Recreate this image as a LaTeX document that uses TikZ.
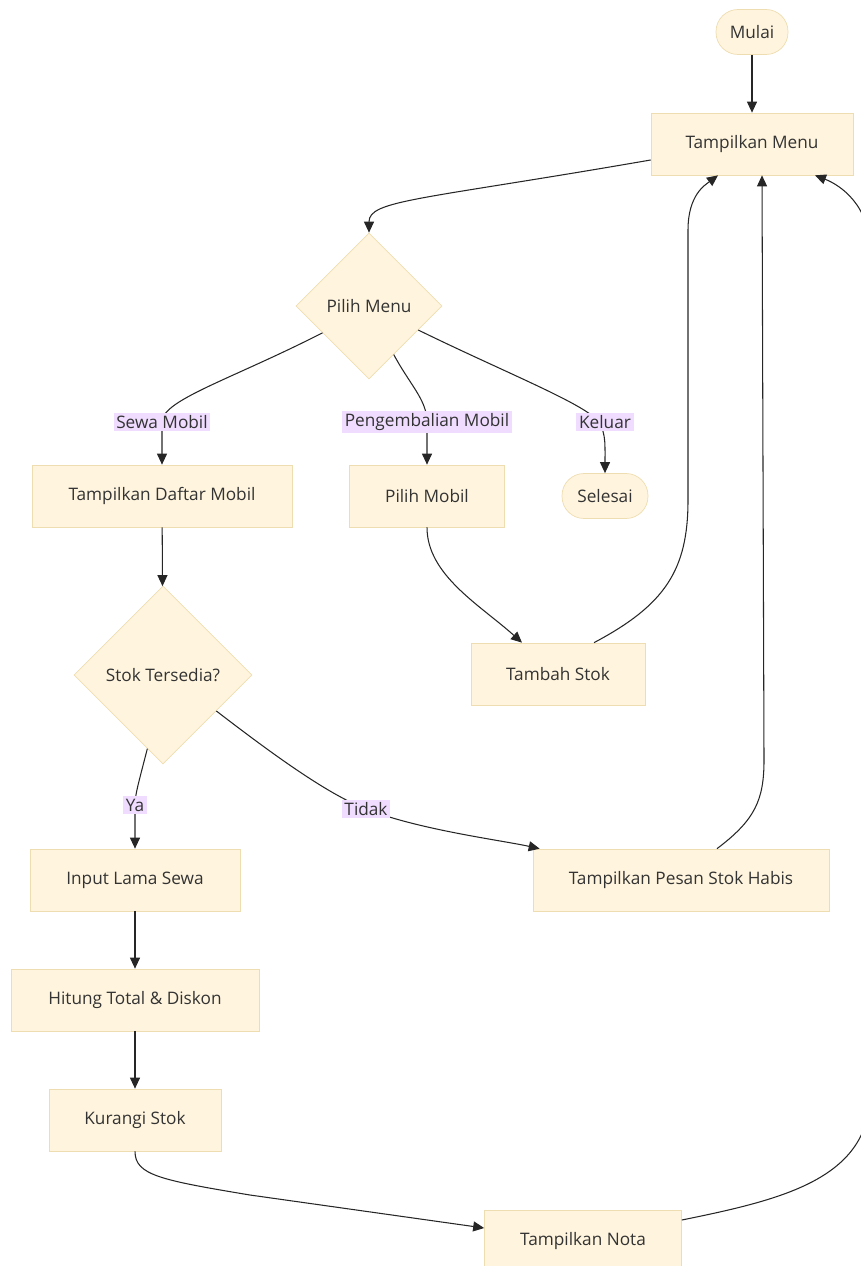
\documentclass[tikz,border=0pt]{standalone}
\usepackage{fontspec}
\setmainfont{Open Sans}
\usetikzlibrary{shapes.geometric,arrows.meta}
\definecolor{boxfill}{HTML}{FFF4DD}
\definecolor{boxline}{HTML}{EEDDB0}
\definecolor{lblfill}{HTML}{F0DCFF}
\definecolor{txt}{HTML}{333333}
\tikzset{
    box/.style={rectangle, fill=boxfill, draw=boxline, text=txt, minimum height=1.24cm, minimum width=#1, inner sep=0pt},
    term/.style={rectangle, rounded corners=0.44cm, fill=boxfill, draw=boxline, text=txt, minimum height=0.9cm, minimum width=#1, inner sep=0pt},
    choice/.style={diamond, aspect=1, fill=boxfill, draw=boxline, text=txt, minimum width=#1, minimum height=#1, inner sep=0pt},
    lbl/.style={fill=lblfill, text=txt, inner sep=1.5pt},
    arr/.style={-{Triangle[length=0.22cm,width=0.2cm]}, line width=0.6pt, draw=black!85}
}
\begin{document}
\begin{tikzpicture}[x=0.02cm, y=-0.02cm, font=\fontsize{9.8}{11.5}\selectfont]
            \useasboundingbox (0,0) rectangle (860,1266);
            \node[term=1.44cm] (mulai) at (752,32) {Mulai};
            \node[box=4.04cm] (menu) at (752,144) {Tampilkan Menu};
            \node[choice=2.92cm] (pilih) at (369,306) {Pilih Menu};
            \node[box=5.2cm] (daftar) at (162,496) {Tampilkan Daftar Mobil};
            \node[box=3.1cm] (pmobil) at (427,496) {Pilih Mobil};
            \node[term=1.72cm] (selesai) at (605,496) {Selesai};
            \node[choice=3.56cm] (stok) at (163,675) {Stok Tersedia?};
            \node[box=3.48cm] (tambah) at (558,674) {Tambah Stok};
            \node[box=4.2cm] (input) at (135,880) {Input Lama Sewa};
            \node[box=5.92cm] (pesan) at (681,880) {Tampilkan Pesan Stok Habis};
            \node[box=4.96cm] (hitung) at (135,1000) {Hitung Total \& Diskon};
            \node[box=3.44cm] (kurangi) at (135,1120) {Kurangi Stok};
            \node[box=3.94cm] (nota) at (583,1241) {Tampilkan Nota};
            \draw[arr] (mulai) -- (menu);
            \draw[arr] ([yshift=-0.32cm]menu.west) .. controls (420,200) and (369,200) .. (pilih.north);
            \draw[arr] (pilih.210) .. controls (230,380) and (162,400) .. (162,422) -- (daftar.north);
            \draw[arr] (pilih.297) .. controls (410,385) and (427,400) .. (427,422) -- (pmobil.north);
            \draw[arr] (pilih.334) .. controls (500,370) and (575,400) .. (595,418) .. controls (606,430) and (605,440) .. (selesai.north);
            \draw[arr] (daftar) -- (stok);
            \draw[arr] (stok.258) .. controls (138,785) and (135,795) .. (135,805) -- (input.north);
            \draw[arr] (stok.326) .. controls (280,760) and (330,795) .. (366,809) .. controls (420,830) and (500,840) .. ([xshift=0.14cm]pesan.north west);
            \draw[arr] (pmobil.south) .. controls (427,575) and (480,605) .. ([xshift=-0.72cm]tambah.north);
            \draw[arr] ([xshift=0.72cm]tambah.north) .. controls (665,605) and (688,570) .. (688,500) -- (688,230) .. controls (688,195) and (705,185) .. ([xshift=-0.68cm]menu.south);
            \draw[arr] ([xshift=0.72cm]pesan.north) .. controls (755,820) and (764,800) .. (764,760) -- ([xshift=0.2cm]menu.south);
            \draw[arr] (input) -- (hitung);
            \draw[arr] (hitung) -- (kurangi);
            \draw[arr] (kurangi.south) .. controls (135,1175) and (160,1180) .. (250,1195) -- ([yshift=0.26cm]nota.west);
            \draw[arr] ([yshift=0.42cm]nota.east) .. controls (780,1200) and (865,1180) .. (870,1100) -- (870,250) .. controls (870,205) and (840,185) .. ([xshift=1.26cm]menu.south);
            % edge labels
            \node[lbl] (lsewa) at (162,422) {Sewa Mobil};
            \node[lbl] (lkembali) at (427,422) {Pengembalian Mobil};
            \node[lbl] (lkeluar) at (605,422) {Keluar};
            \node[lbl] (lya) at (135,805) {Ya};
            \node[lbl] (ltidak) at (366,809) {Tidak};
        \end{tikzpicture}
\end{document}
